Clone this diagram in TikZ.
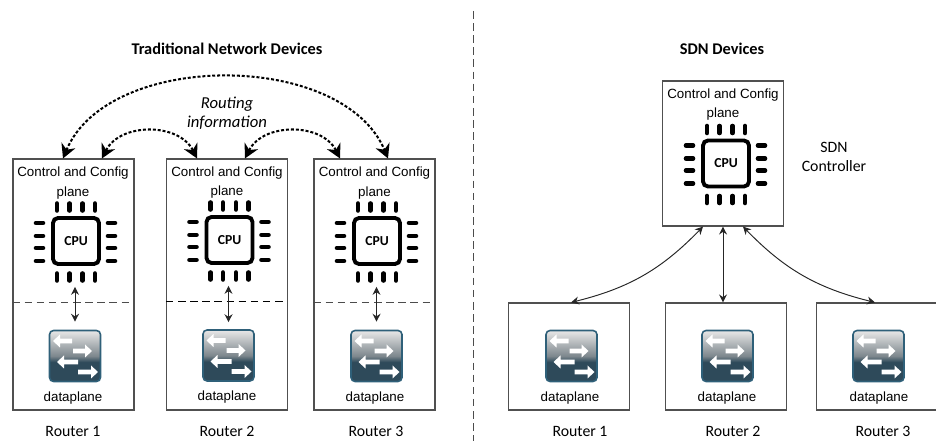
\documentclass[tikz,border=0pt]{standalone}
\usepackage{fontspec}
\setmainfont{Liberation Sans}
\newfontfamily\calfont{Carlito}
\usetikzlibrary{arrows.meta}
\definecolor{swdark}{HTML}{2E4A5A}
\definecolor{swmid}{HTML}{7D878D}
\definecolor{swlight}{HTML}{E4E4E4}
\definecolor{swedge}{HTML}{2F6079}
\definecolor{boxline}{HTML}{505050}
\pgfdeclareverticalshading{swshade}{100bp}{color(0bp)=(swdark); color(44bp)=(swdark); color(50bp)=(swmid); color(74bp)=(swlight); color(100bp)=(swlight)}
\tikzset{
	routerbox/.style={draw=boxline,line width=.65pt,minimum width=2.42cm,inner sep=0pt},
	chipbox/.style={draw=black,line width=2.2pt,rounded corners=.1cm,minimum size=.92cm,inner sep=0pt,font=\calfont\bfseries\fontsize{7.8}{9}\selectfont},
	swbox/.style={draw=swedge,line width=.9pt,rounded corners=.08cm,minimum size=1.02cm,inner sep=0pt,shading=swshade},
	planetext/.style={align=center,font=\fontsize{7.6}{11.2}\selectfont},
	dptext/.style={font=\fontsize{7.6}{9}\selectfont},
	captext/.style={font=\calfont\fontsize{9}{11}\selectfont},
	headtext/.style={font=\calfont\bfseries\fontsize{9.3}{11}\selectfont},
	planeline/.style={draw=black!70,line width=.55pt,dash pattern=on 4.3pt off 2.6pt},
	routearc/.style={{Stealth[length=8pt,width=8.5pt]}-{Stealth[length=8pt,width=8.5pt]},line width=1.15pt,dash pattern=on 1.7pt off 1.1pt},
	linkarrow/.style={{Stealth[length=4.5pt,width=4.5pt]}-{Stealth[length=4.5pt,width=4.5pt]},line width=.55pt,draw=black!85}
}
\newcommand{\cpuchip}[3]{
	\node[chipbox] (#1) at (#2,#3) {CPU};
	\begin{scope}[shift={(#2,#3)},line width=2.6pt,line cap=round]
		\foreach \p in {-19,-6.5,6.5,19}{
			\draw (\p,-37.5)--(\p,-30.5);
			\draw (\p,32.5)--(\p,39.5);
		}
		\foreach \p in {-18,-5,7,20}{
			\draw (-40,\p)--(-33,\p);
			\draw (32,\p)--(39,\p);
		}
	\end{scope}
}
\newcommand{\switchicon}[3]{
	\node[swbox] (#1) at (#2,#3) {};
	\begin{scope}[shift={(#2,#3)}]
		\foreach \t/\b/\e/\h in {-22/-15/-3/-15,17/10/-2/-5,-18/-11/3/6,23/16/3/16}{
			\fill[white] (\e,\h-2.3)--(\b,\h-2.3)--(\b,\h-6.5)--(\t,\h)--(\b,\h+6.5)--(\b,\h+2.3)--(\e,\h+2.3)--cycle;
		}
	\end{scope}
}
\begin{document}
\begin{tikzpicture}[x=0.02cm,y=-0.02cm]
	\useasboundingbox (0,0) rectangle (936,445);
	\clip (0,0) rectangle (936,445);
	\node[headtext] (headold) at (227,49) {Traditional Network Devices};
	\node[headtext] (headsdn) at (722,49) {SDN Devices};
	\coordinate (divtop) at (473,11);
	\coordinate (divbot) at (473,441);
	\draw[planeline] (divtop)--(divbot);

	\node[routerbox,minimum height=5.02cm] (rA) at (73.5,284.5) {};
	\node[routerbox,minimum height=5.02cm] (rB) at (227,284.5) {};
	\node[routerbox,minimum height=5.02cm] (rC) at (374.5,284.5) {};
	\node[planetext] (ctA) at (73,183) {Control and Config\\plane};
	\node[planetext] (ctB) at (227,182.5) {Control and Config\\plane};
	\node[planetext] (ctC) at (374.5,183) {Control and Config\\plane};
	\cpuchip{cpuA}{76}{241}
	\cpuchip{cpuB}{229.5}{240}
	\cpuchip{cpuC}{377}{241}
	\switchicon{swA}{75}{356}
	\switchicon{swB}{228.5}{355.5}
	\switchicon{swC}{376.5}{356}
	\node[dptext] (dpA) at (73,398) {dataplane};
	\node[dptext] (dpB) at (227,397.5) {dataplane};
	\node[dptext] (dpC) at (375,398) {dataplane};
	\node[captext] (nameA) at (73,431) {Router 1};
	\node[captext] (nameB) at (227,431) {Router 2};
	\node[captext] (nameC) at (376,431) {Router 3};
	\draw[planeline,shorten >=.08cm] ([yshift=-.35cm]rA.west)--([yshift=-.35cm]rA.east);
	\draw[planeline,draw=black,shorten >=.06cm] ([yshift=-.34cm]rB.west)--([yshift=-.34cm]rB.east);
	\draw[planeline,shorten >=.08cm] ([yshift=-.35cm]rC.west)--([yshift=-.35cm]rC.east);
	\draw[linkarrow,shorten <=.42cm,shorten >=.16cm] (cpuA.south-|swA.north)--(swA.north);
	\draw[linkarrow,shorten <=.42cm,shorten >=.14cm] (cpuB.south-|swB.north)--(swB.north);
	\draw[linkarrow,shorten <=.42cm,shorten >=.16cm] (cpuC.south-|swC.north)--(swC.north);

	\node[font=\calfont\itshape\fontsize{9.5}{10.8}\selectfont,align=center] (routeinfo) at (227,113) {Routing\\information};
	\draw[routearc] ([xshift=-.21cm]rA.north) .. controls +(45,-108) and +(-45,-108) .. ([xshift=.27cm]rC.north);
	\draw[routearc] ([xshift=.57cm]rA.north) .. controls +(18,-36) and +(-18,-36) .. ([xshift=-.6cm]rB.north);
	\draw[routearc] ([xshift=.36cm]rB.north) .. controls +(18,-36) and +(-18,-36) .. ([xshift=-.69cm]rC.north);

	\node[routerbox,minimum height=2.9cm] (ctl) at (723,153.5) {};
	\node[planetext] (ctD) at (723,104.5) {Control and Config\\plane};
	\cpuchip{cpuD}{726}{163.5}
	\node[captext,align=center,font=\calfont\fontsize{9}{10.8}\selectfont] (ctlname) at (834,157) {SDN\\Controller};

	\node[routerbox,minimum height=2.14cm] (edgeA) at (569,356.5) {};
	\node[routerbox,minimum height=2.14cm] (edgeB) at (726,356.5) {};
	\node[routerbox,minimum height=2.14cm] (edgeC) at (877,356.5) {};
	\switchicon{swD}{571.5}{356}
	\switchicon{swE}{727.5}{356}
	\switchicon{swF}{878.5}{356}
	\node[dptext] (dpD) at (570,398) {dataplane};
	\node[dptext] (dpE) at (727,398) {dataplane};
	\node[dptext] (dpF) at (879,398) {dataplane};
	\node[captext] (nameD) at (580,431) {Router 1};
	\node[captext] (nameE) at (733,431) {Router 2};
	\node[captext] (nameF) at (883,431) {Router 3};
	\draw[linkarrow] ([xshift=-.4cm]ctl.south) to[bend left=16] ([xshift=.04cm]edgeA.north);
	\draw[linkarrow] (ctl.south)--(ctl.south|-edgeB.north);
	\draw[linkarrow] ([xshift=.4cm]ctl.south) to[bend right=16] ([xshift=-.04cm]edgeC.north);
\end{tikzpicture}
\end{document}
